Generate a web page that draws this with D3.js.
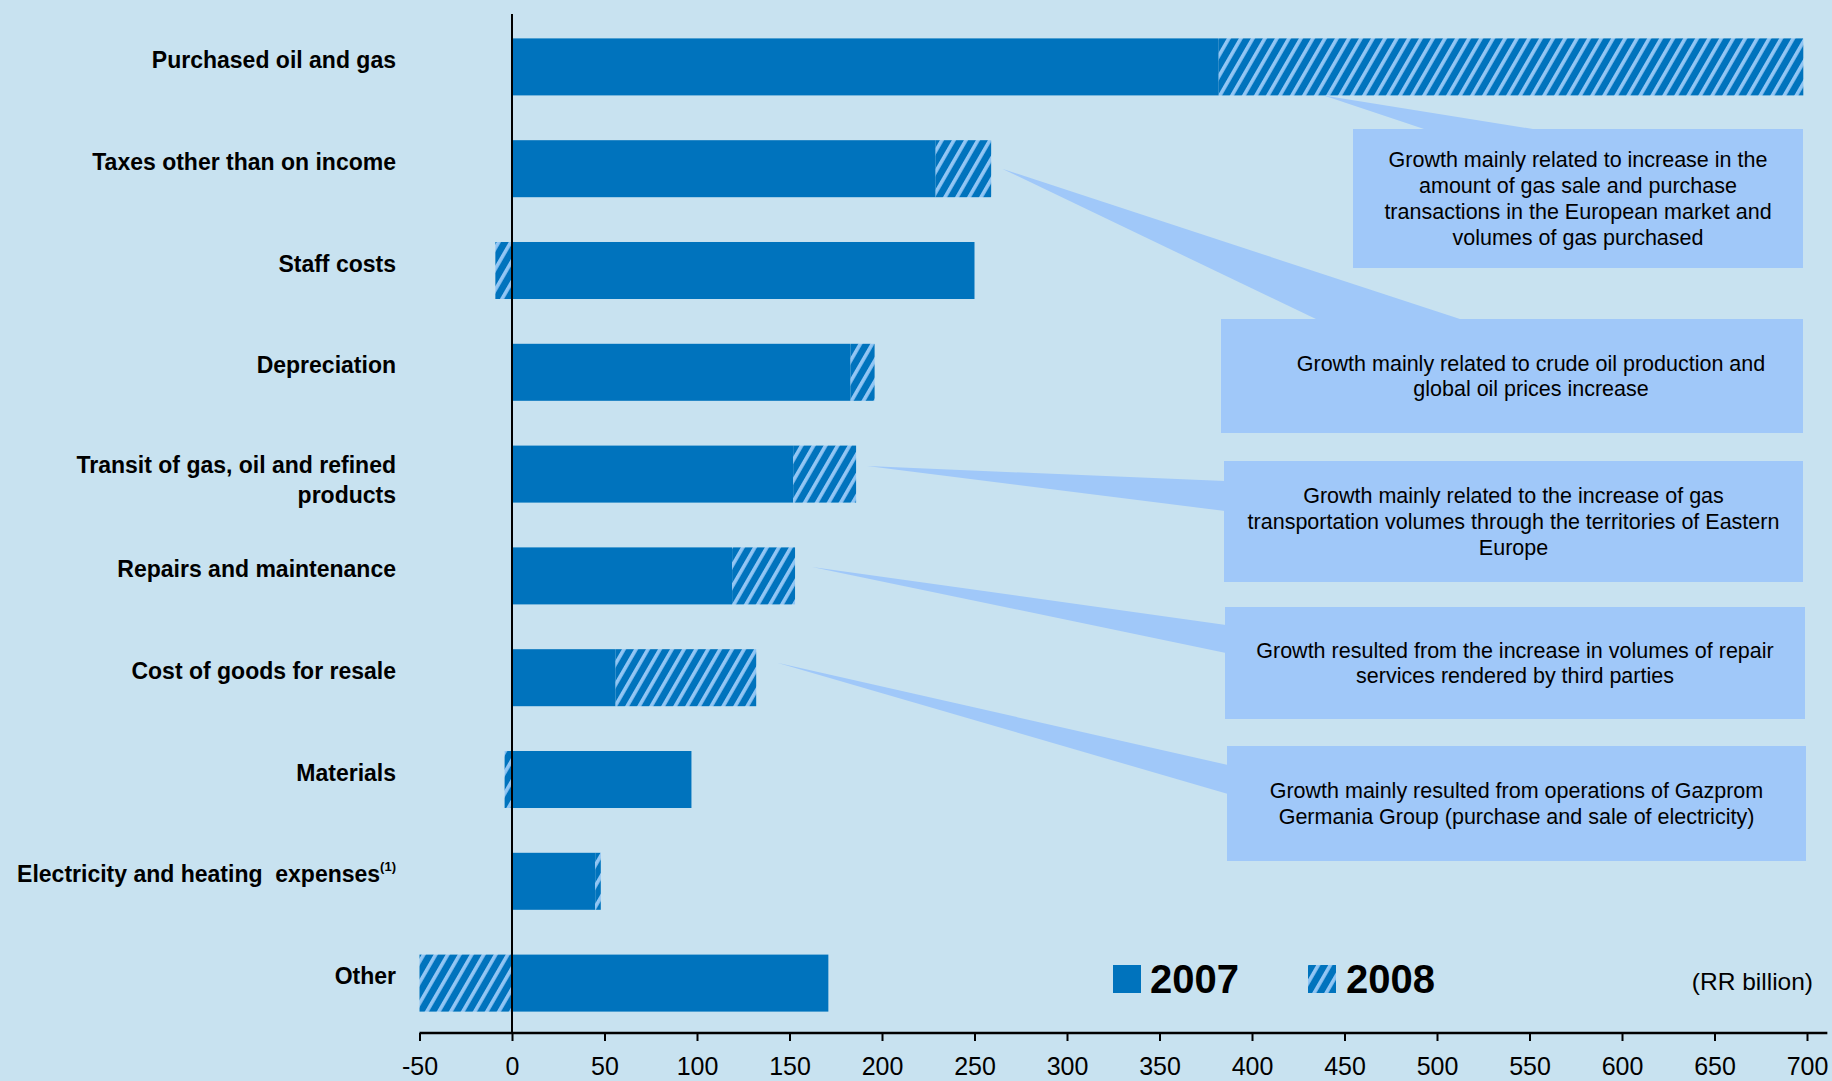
<!DOCTYPE html>
<html>
<head>
<meta charset="utf-8">
<script src="https://cdn.jsdelivr.net/npm/d3@7"></script>
<style>
  html, body { margin: 0; padding: 0; background: #C8E2F0; }
  svg { display: block; }
  text { font-family: "Liberation Sans", Arial, sans-serif; }
</style>
</head>
<body>
<svg id="chart" width="1832" height="1081"></svg>
<script>
// Operating expenses by item, RR billion
const categories = [
  "Purchased oil and gas",
  "Taxes other than on income",
  "Staff costs",
  "Depreciation",
  "Transit of gas, oil and refined products",
  "Repairs and maintenance",
  "Cost of goods for resale",
  "Materials",
  "Electricity and heating  expenses",
  "Other"
];
const value2007 = [382, 229, 250, 183, 152, 119, 56, 97, 45, 171];
const value2008 = [698, 259, 241, 196, 186, 153, 132, 93, 48, 121];

const tickValues = [-50, 0, 50, 100, 150, 200, 250, 300, 350, 400, 450, 500, 550, 600, 650, 700];
const legendYears = ["2007", "2008"];
const unitLabel = "(RR billion)";

// Explanatory notes attached to selected items
const calloutItems = [
  "Purchased oil and gas",
  "Taxes other than on income",
  "Transit of gas, oil and refined products",
  "Repairs and maintenance",
  "Cost of goods for resale"
];
const calloutTexts = [
  ["Growth mainly related to increase in the", "amount of gas sale and purchase", "transactions in the European market and", "volumes of gas purchased"],
  ["Growth mainly related to crude oil production and", "global oil prices increase"],
  ["Growth mainly related to the increase of gas", "transportation volumes through the territories of Eastern", "Europe"],
  ["Growth resulted from the increase in volumes of repair", "services rendered by third parties"],
  ["Growth mainly resulted from operations of Gazprom", "Germania Group (purchase and sale of electricity)"]
];

// Placement of the note boxes and their pointers (pixels).
// A pointer starts next to the bar: "end" = right end of the bar,
// "mid2008" = inside the hatched part, at the bar's lower edge.
const calloutLayout = [
  { box: [1353, 129, 1803, 268], side: "top",  base: [1427, 1539], anchor: "inside", tip: { dx: 105, dy: 28.5 }, textDx: 0 },
  { box: [1221, 319, 1803, 433], side: "top",  base: [1318, 1463], anchor: "end",    tip: { dx: 11, dy: 0 },     textDx: 19 },
  { box: [1224, 461, 1803, 582], side: "left", base: [481, 511],   anchor: "end",    tip: { dx: 11, dy: -8 },    textDx: 0 },
  { box: [1225, 607, 1805, 719], side: "left", base: [625, 653],   anchor: "end",    tip: { dx: 17, dy: -9 },    textDx: 0 },
  { box: [1227, 746, 1806, 861], side: "left", base: [765, 794],   anchor: "end",    tip: { dx: 21, dy: -15 },   textDx: 0 }
];

const colors = {
  bg: "#C8E2F0",
  bar: "#0073BD",
  hatchLight: "#92C6F4",
  note: "#A0C8F9",
  ink: "#000000"
};

const svg = d3.select("#chart");
const W = 1832, H = 1081;

svg.append("rect").attr("width", W).attr("height", H).attr("fill", colors.bg);

// Diagonal hatch for the 2008 change
const defs = svg.append("defs");
const pat = defs.append("pattern")
  .attr("id", "hatch")
  .attr("patternUnits", "userSpaceOnUse")
  .attr("width", 10.4).attr("height", 10.4)
  .attr("patternTransform", "rotate(30)");
pat.append("rect").attr("width", 10.4).attr("height", 10.4).attr("fill", colors.bar);
pat.append("rect").attr("width", 3.6).attr("height", 10.4).attr("fill", colors.hatchLight);

const x = d3.scaleLinear().domain([-50, 700]).range([419.5, 1807]);
const y = d3.scaleBand().domain(categories).range([16, 1034])
  .paddingInner(0.44).paddingOuter(0.22);

const axisY = 1033;
const axisEndValue = 711;

const rows = categories.map((c, i) => {
  const a = value2007[i], b = value2008[i];
  const change = b - a;
  return {
    cat: c, v2007: a, v2008: b, change,
    hx0: change >= 0 ? a : change,
    hx1: change >= 0 ? b : 0
  };
});

// 2007 bars
svg.append("g").selectAll("rect").data(rows).join("rect")
  .attr("x", d => x(0))
  .attr("y", d => y(d.cat))
  .attr("width", d => x(d.v2007) - x(0))
  .attr("height", y.bandwidth())
  .attr("fill", colors.bar);

// 2008 change (hatched)
svg.append("g").selectAll("rect").data(rows).join("rect")
  .attr("x", d => x(d.hx0))
  .attr("y", d => y(d.cat))
  .attr("width", d => x(d.hx1) - x(d.hx0))
  .attr("height", y.bandwidth())
  .attr("fill", "url(#hatch)");

// Category labels
const labelX = 396;
const labelG = svg.append("g")
  .attr("font-weight", "bold")
  .attr("font-size", 23)
  .attr("fill", colors.ink)
  .attr("text-anchor", "end");

rows.forEach(d => {
  const cy = y(d.cat) + y.bandwidth() / 2;
  const t = labelG.append("text").attr("x", labelX).attr("y", cy + 1).style("white-space", "pre");
  if (d.cat === "Transit of gas, oil and refined products") {
    t.attr("y", cy - 1);
    t.append("tspan").attr("x", labelX).text("Transit of gas, oil and refined");
    t.append("tspan").attr("x", labelX).attr("dy", 30).text("products");
  } else if (d.cat === "Electricity and heating  expenses") {
    t.append("tspan").text(d.cat);
    t.append("tspan").attr("font-size", 13).attr("dy", -11).text("(1)");
  } else {
    t.text(d.cat);
  }
});

// Notes: pointer wedges, boxes, text
const noteG = svg.append("g");
calloutItems.forEach((cat, i) => {
  const L = calloutLayout[i];
  const idx = categories.indexOf(cat);
  const r = rows[idx];
  const [bx0, by0, bx1, by1] = L.box;
  const ref = L.anchor === "inside" ? r.v2007 : Math.max(r.v2007, r.v2008);
  const tipX = x(ref) + L.tip.dx;
  const tipY = y(cat) + y.bandwidth() / 2 + L.tip.dy;
  let pts;
  if (L.side === "top") {
    pts = [[tipX, tipY], [L.base[0], by0 + 1], [L.base[1], by0 + 1]];
  } else {
    pts = [[tipX, tipY], [bx0 + 1, L.base[0]], [bx0 + 1, L.base[1]]];
  }
  noteG.append("path")
    .attr("d", d3.line()(pts) + "Z")
    .attr("fill", colors.note);
  noteG.append("rect")
    .attr("x", bx0).attr("y", by0)
    .attr("width", bx1 - bx0).attr("height", by1 - by0)
    .attr("fill", colors.note);
  const lines = calloutTexts[i];
  const lh = 25.8;
  const cx = (bx0 + bx1) / 2 + L.textDx;
  const cyMid = (by0 + by1) / 2;
  const firstBase = cyMid - (lines.length - 1) * lh / 2 + 7.5;
  const tt = noteG.append("text")
    .attr("font-size", 21.5)
    .attr("fill", colors.ink)
    .attr("text-anchor", "middle");
  lines.forEach((ln, k) => {
    tt.append("tspan").attr("x", cx).attr("y", firstBase + k * lh).text(ln);
  });
});

// Vertical zero line
svg.append("line")
  .attr("x1", x(0)).attr("x2", x(0))
  .attr("y1", 14).attr("y2", axisY)
  .attr("stroke", colors.ink).attr("stroke-width", 2);

// Value axis
const axisG = svg.append("g")
  .attr("transform", `translate(0,${axisY})`)
  .call(d3.axisBottom(x).tickValues(tickValues).tickSize(8).tickSizeOuter(0).tickPadding(16)
    .tickFormat(d3.format("d")));
axisG.select(".domain").remove();
axisG.selectAll(".tick line").attr("stroke", colors.ink).attr("stroke-width", 2);
axisG.selectAll(".tick text")
  .attr("font-family", "'Liberation Sans', Arial, sans-serif")
  .attr("font-size", 25)
  .attr("fill", colors.ink)
  .text(d => d < 0 ? "-" + Math.abs(d) : d);
svg.append("line")
  .attr("x1", x(-50)).attr("x2", x(axisEndValue))
  .attr("y1", axisY).attr("y2", axisY)
  .attr("stroke", colors.ink).attr("stroke-width", 2.5);

// Legend
const legendG = svg.append("g");
const legendItems = [
  { label: legendYears[0], fill: colors.bar, sx: 1113, tx: 1150 },
  { label: legendYears[1], fill: "url(#hatch)", sx: 1308, tx: 1346 }
];
legendItems.forEach(it => {
  legendG.append("rect")
    .attr("x", it.sx).attr("y", 965)
    .attr("width", 28).attr("height", 28)
    .attr("fill", it.fill);
  legendG.append("text")
    .attr("x", it.tx).attr("y", 993)
    .attr("font-size", 40).attr("font-weight", "bold")
    .attr("fill", colors.ink)
    .text(it.label);
});

svg.append("text")
  .attr("x", 1813).attr("y", 990)
  .attr("text-anchor", "end")
  .attr("font-size", 24.5)
  .attr("fill", colors.ink)
  .text(unitLabel);
</script>
</body>
</html>
